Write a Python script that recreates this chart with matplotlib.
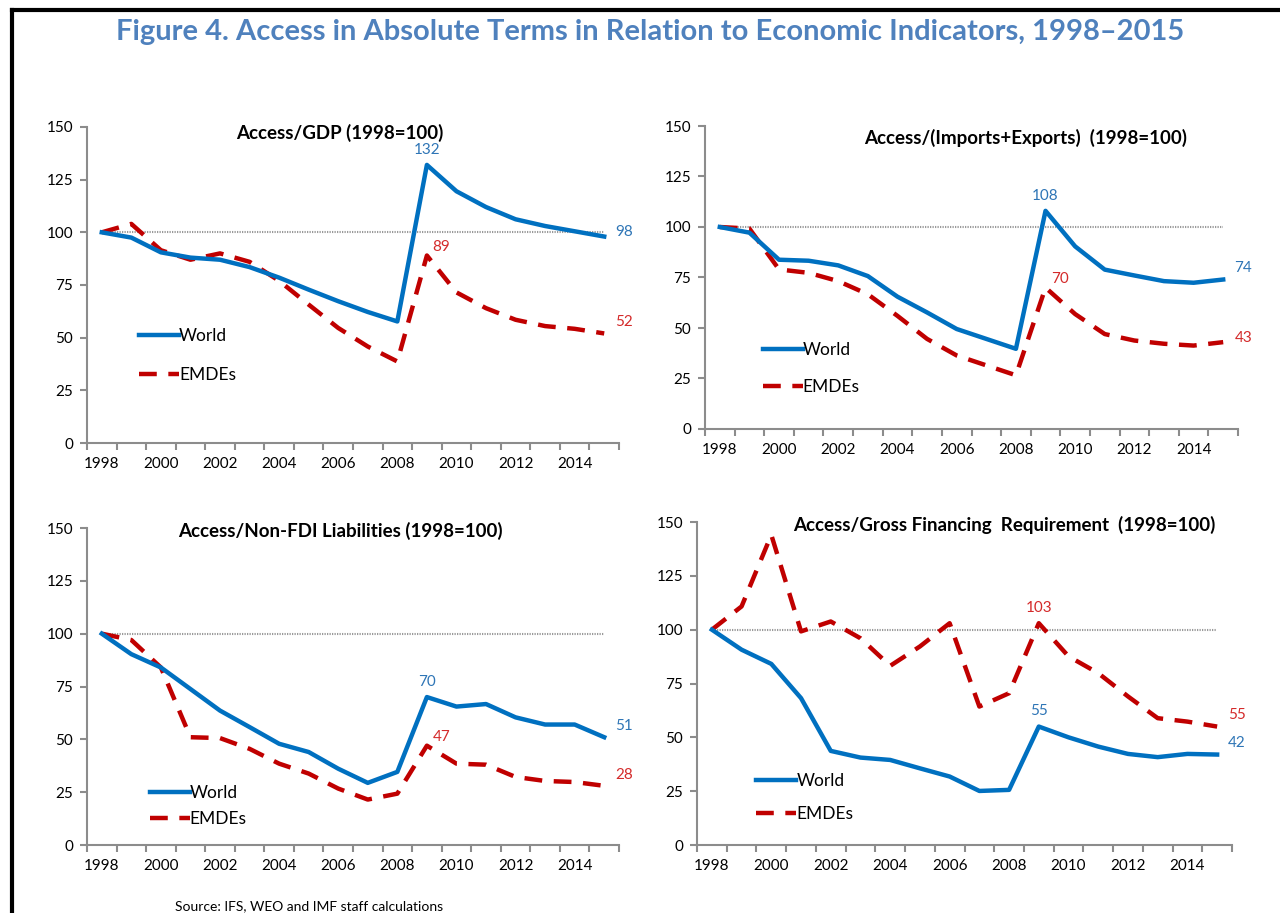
import matplotlib
matplotlib.use("Agg")
import matplotlib.pyplot as plt
from matplotlib.lines import Line2D
import numpy as np

plt.rcParams['font.family'] = ['Lato', 'DejaVu Sans']

years = list(range(1998, 2016))

# Access/GDP
gdp_world = [100, 97.5, 90.5, 88, 87, 83.5, 78.5, 72.8, 67.3, 62.2, 57.7, 132, 119.5, 112, 106.2, 103, 100.5, 98]
gdp_emde = [100, 104, 91.5, 87, 90, 86, 77, 65.7, 54.6, 45.8, 38.7, 89, 71.5, 64, 58.5, 55.5, 54.2, 52]
# Access/(Imports+Exports)
trade_world = [100, 97.2, 83.8, 83.3, 81, 75.7, 65.5, 57.7, 49.5, 44.6, 39.7, 108, 90.4, 78.9, 76, 73.2, 72.4, 74]
trade_emde = [100, 99.2, 79, 77.3, 73.2, 66.7, 56, 44.6, 36.4, 31.5, 26.6, 70, 56.9, 47, 43.8, 42.2, 41.3, 43]
# Access/Non-FDI Liabilities
liab_world = [100, 90.3, 84, 73.8, 63.6, 55.8, 47.9, 44, 36.1, 29.4, 34.6, 70, 65.5, 66.7, 60.4, 57, 57, 51]
liab_emde = [100, 97, 84, 51, 50.6, 45.5, 38.5, 33.8, 26.7, 21.5, 24.3, 47, 38.5, 38, 32.2, 30.3, 29.8, 28]
# Access/Gross Financing Requirement
gfr_world = [100, 90.7, 84.1, 68.2, 43.7, 40.6, 39.5, 35.6, 31.8, 25.1, 25.6, 55, 50, 45.7, 42.3, 40.8, 42.3, 42]
gfr_emde = [100, 110.8, 144, 99.2, 103.8, 96, 83.2, 92.2, 103, 64.3, 70.5, 103, 87.6, 79.8, 69, 58.9, 57.3, 55]

titles = ["Access/GDP (1998=100)",
          "Access/(Imports+Exports)  (1998=100)",
          "Access/Non-FDI Liabilities (1998=100)",
          "Access/Gross Financing  Requirement  (1998=100)"]

BLUE = "#0070C0"
RED = "#C00000"
GRAY = "#8C8C8C"

fig = plt.figure(figsize=(12.8, 9.13), dpi=100)

# frame lines like the source page
fig.add_artist(Line2D([12/1280, 1], [1 - 10/913, 1 - 10/913], color="black", lw=3, transform=fig.transFigure))
fig.add_artist(Line2D([12/1280, 12/1280], [0, 1 - 10/913], color="black", lw=3, transform=fig.transFigure))

fig.text(650/1280, 1 - 32/913, "Figure 4. Access in Absolute Terms in Relation to Economic Indicators, 1998\u20132015",
         ha="center", va="center", fontsize=21, fontweight="bold", color="#4F81BD")

boxes = [
    [87/1280, (913-443)/913, 532/1280, 316/913],
    [705/1280, (913-429)/913, 533/1280, 303/913],
    [87/1280, (913-845)/913, 532/1280, 317/913],
    [697/1280, (913-845)/913, 535/1280, 323/913],
]
panels = [(gdp_world, gdp_emde), (trade_world, trade_emde),
          (liab_world, liab_emde), (gfr_world, gfr_emde)]
title_pos = [(0.476, 0.981), (0.602, 0.96), (0.476, 0.99), (0.574, 0.99)]
legend_pos = [(0.085, 0.385), (0.095, 0.31), (0.105, 0.21), (0.098, 0.245)]
legend_gap = [1.3, 1.2, 0.55, 1.0]

for i, (box, (w, e)) in enumerate(zip(boxes, panels)):
    ax = fig.add_axes(box)
    x = np.arange(len(years))
    ax.plot([0, len(years) - 1], [100, 100], color="#999999", lw=1.5, ls=(0, (0.6, 0.6)), zorder=1)
    ax.plot(x, w, color=BLUE, lw=3.2, label="World", zorder=3, solid_joinstyle="round")
    ax.plot(x, e, color=RED, lw=3.2, ls=(0, (4, 2.6)), label="EMDEs", zorder=2)
    ax.set_xlim(-0.5, len(years) - 0.5)
    ax.set_ylim(0, 150)
    ax.set_yticks([0, 25, 50, 75, 100, 125, 150])
    ax.set_xticks(np.arange(-0.5, len(years), 1))
    ax.set_xticklabels([])
    ax.set_xticks(x[::2], minor=True)
    ax.set_xticklabels([str(y) for y in years[::2]], minor=True)
    ax.tick_params(axis="x", which="minor", length=0, pad=10, labelsize=11)
    ax.tick_params(axis="x", which="major", length=5, width=1.5, color=GRAY, direction="out")
    ax.tick_params(axis="y", length=5, width=1.5, color=GRAY, direction="out", labelsize=11, pad=5)
    for s in ["top", "right"]:
        ax.spines[s].set_visible(False)
    for s in ["left", "bottom"]:
        ax.spines[s].set_color(GRAY)
        ax.spines[s].set_linewidth(1.5)
    ax.set_title(titles[i], fontsize=13.5, fontweight="bold", x=title_pos[i][0], y=title_pos[i][1],
                 va="center", pad=0)
    ax.legend(loc="upper left", bbox_to_anchor=legend_pos[i], frameon=False, fontsize=12.5,
              handlelength=2.3, handletextpad=0.0, labelspacing=legend_gap[i], borderaxespad=0)

    # data labels: 2009 peaks and 2015 ends
    pk, last = 11, len(years) - 1
    ax.annotate(f"{w[pk]:.0f}", (pk, w[pk]), xytext=(0, 6), textcoords="offset points",
                ha="center", va="bottom", color="#2E75B6", fontsize=11)
    ax.annotate(f"{w[last]:.0f}", (last, w[last]), xytext=(8, 3 if i else 3), textcoords="offset points",
                ha="left", va="center" if i == 0 else "bottom", color="#2E75B6", fontsize=11)
    if i == 3:
        ax.annotate(f"{e[pk]:.0f}", (pk, e[pk]), xytext=(0, 6), textcoords="offset points",
                    ha="center", va="bottom", color="#D42A2A", fontsize=11)
    else:
        ax.annotate(f"{e[pk]:.0f}", (pk, e[pk]), xytext=(4, 1), textcoords="offset points",
                    ha="left", va="bottom", color="#D42A2A", fontsize=11)
    ax.annotate(f"{e[last]:.0f}", (last, e[last]), xytext=(8, 3), textcoords="offset points",
                ha="left", va="bottom" if i != 1 else "center", color="#D42A2A", fontsize=11)

fig.text(175/1280, 1 - 906/913, "Source: IFS, WEO and IMF staff calculations", ha="left", va="center", fontsize=10)

fig.savefig("out.png", dpi=100)
